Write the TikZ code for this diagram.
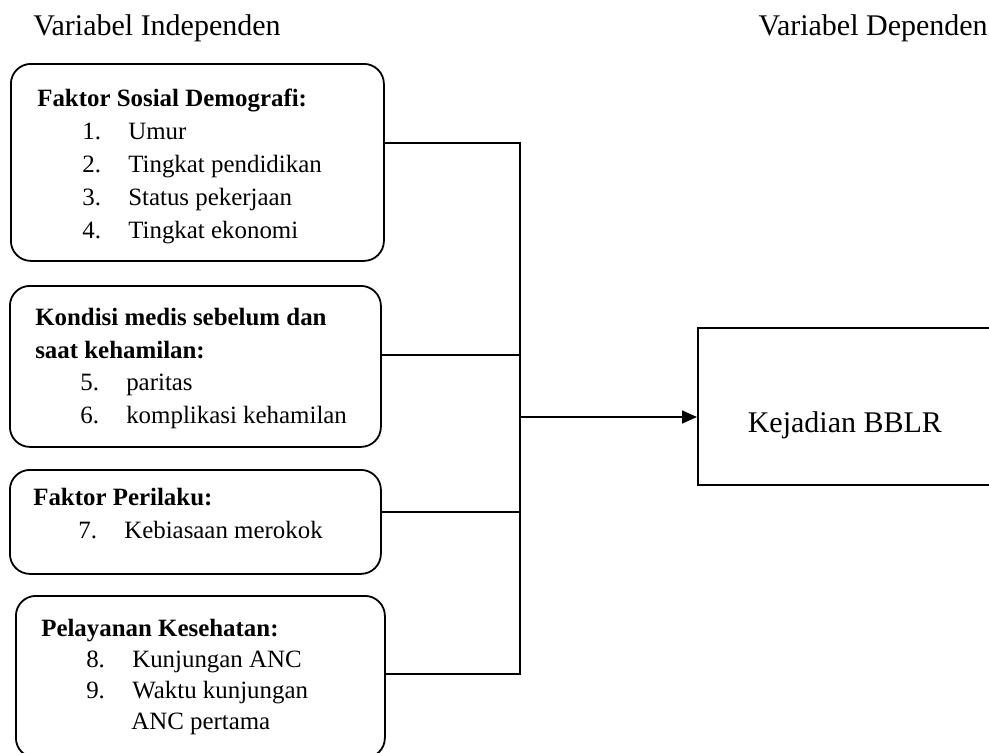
\documentclass[tikz,border=0pt]{standalone}
\usepackage{fontspec}
\setmainfont{Liberation Serif}
\usepackage{tikz}
\usetikzlibrary{arrows.meta}

\newcommand{\itm}[2]{\hspace*{45pt}\makebox[46pt][l]{#1}#2}

\begin{document}
\begin{tikzpicture}[x=1pt,y=-1pt,semithick]
        \tikzstyle{factorbox}=[
            draw=black,
            line width=1.8pt,
            rounded corners=20pt,
            anchor=north west,
            inner sep=0pt
        ]
        \tikzstyle{outcomebox}=[
            draw=black,
            line width=1.8pt,
            anchor=north west,
            inner sep=0pt
        ]
        \tikzstyle{listtext}=[
            anchor=north west,
            align=left,
            inner sep=0pt
        ]
        \tikzstyle{link}=[line width=1.5pt]

        \useasboundingbox (0,0) rectangle (989,753);

        \node[anchor=base west, inner sep=0pt, font=\fontsize{30pt}{34pt}\selectfont] (indep) at (33,35) {Variabel Independen};
        \node[anchor=base east, inner sep=0pt, font=\fontsize{30pt}{34pt}\selectfont] (dep) at (988,35) {Variabel Dependen};

        \node[factorbox, minimum width=373pt, minimum height=197pt] (sosial) at (10,63) {};
        \node[factorbox, minimum width=371pt, minimum height=161pt] (medis) at (9,285) {};
        \node[factorbox, minimum width=371pt, minimum height=104pt] (perilaku) at (9,469) {};
        \node[factorbox, minimum width=369pt, minimum height=162pt] (pelayanan) at (15,595) {};
        \node[outcomebox, minimum width=298pt, minimum height=157pt] (bblr) at (697,327) {};

        \node[listtext, font=\fontsize{24.9pt}{33pt}\selectfont] (sosialtext) at ([shift={(27,26)}]sosial.north west) {%
            \textbf{Faktor Sosial Demografi:}\\
            \itm{1.}{Umur}\\
            \itm{2.}{Tingkat pendidikan}\\
            \itm{3.}{Status pekerjaan}\\
            \itm{4.}{Tingkat ekonomi}};
        \node[listtext, font=\fontsize{24.9pt}{32.7pt}\selectfont] (medistext) at ([shift={(26,23)}]medis.north west) {%
            \textbf{Kondisi medis sebelum dan}\\
            \textbf{saat kehamilan:}\\
            \itm{5.}{paritas}\\
            \itm{6.}{komplikasi kehamilan}};
        \node[listtext, font=\fontsize{24.9pt}{33pt}\selectfont] (perilakutext) at ([shift={(24,19)}]perilaku.north west) {%
            \textbf{Faktor Perilaku:}\\
            \itm{7.}{Kebiasaan merokok}};
        \node[listtext, font=\fontsize{24.9pt}{31pt}\selectfont] (pelayanantext) at ([shift={(26,24)}]pelayanan.north west) {%
            \textbf{Pelayanan Kesehatan:}\\
            \itm{8.}{Kunjungan ANC}\\
            \itm{9.}{Waktu kunjungan}\\
            \hspace*{90pt}ANC pertama};
        \node[anchor=base, inner sep=0pt, font=\fontsize{30pt}{34pt}\selectfont] (bblrtext) at ([shift={(-2,26)}]bblr.center) {Kejadian BBLR};

        \coordinate (j1) at (520,143);
        \coordinate (j2) at (520,355);
        \coordinate (jout) at (520,417);
        \coordinate (j3) at (520,512);
        \coordinate (j4) at (520,674);

        \draw[link] (sosial.east |- j1) -- (j1) -- (j4) -- (pelayanan.east |- j4);
        \draw[link] (medis.east |- j2) -- (j2);
        \draw[link] (perilaku.east |- j3) -- (j3);
        \draw[link, -{Triangle[length=15pt,width=13pt]}] (jout) -- (bblr.west |- jout);

    \end{tikzpicture}
\end{document}
